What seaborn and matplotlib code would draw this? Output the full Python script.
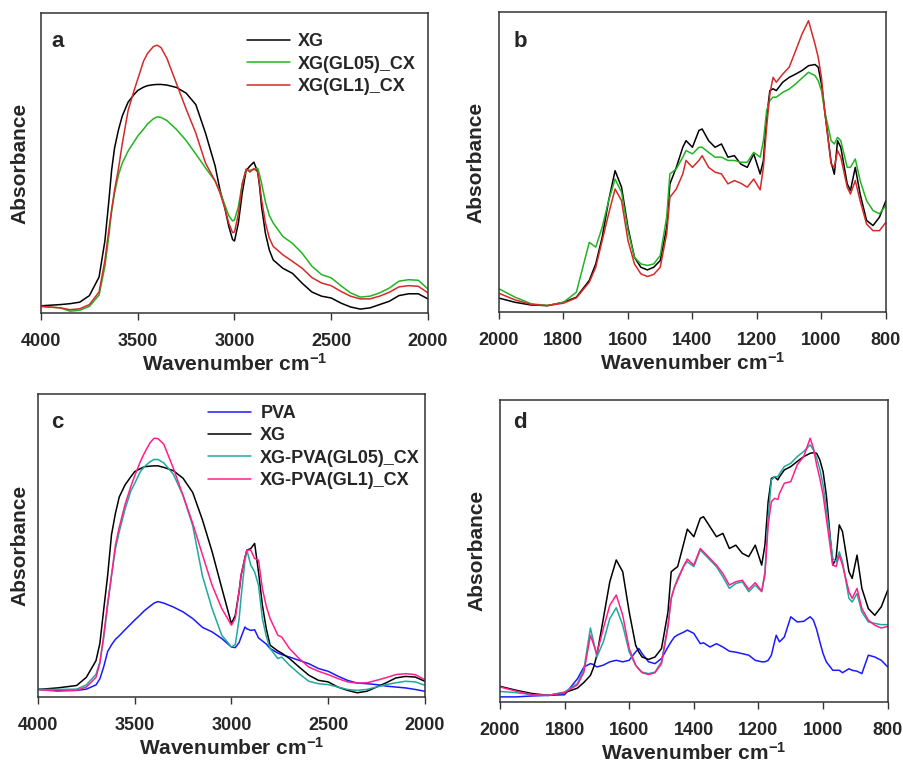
import numpy as np
import pandas as pd
import matplotlib
matplotlib.use("Agg")
import matplotlib.pyplot as plt
import seaborn as sns

# ---------------- data (arbitrary absorbance units) ----------------
xa = [4000, 3900, 3850, 3800, 3750, 3700, 3670, 3650, 3635, 3620, 3600, 3580, 3550, 3520, 3500,
      3470, 3450, 3420, 3400, 3380, 3350, 3300, 3250, 3200, 3150, 3100, 3075, 3050, 3030, 3010,
      3000, 2980, 2960, 2940, 2920, 2900, 2880, 2870, 2860, 2840, 2820, 2800, 2750, 2700, 2650,
      2600, 2550, 2500, 2450, 2400, 2350, 2300, 2250, 2200, 2150, 2100, 2050, 2000]
a_xg = [.024, .028, .031, .036, .058, .12, .24, .37, .477, .55, .61, .657, .703, .728, .742,
        .753, .758, .761, .762, .762, .76, .752, .733, .695, .60, .49, .41, .35, .29, .245,
        .24, .30, .40, .475, .49, .503, .47, .42, .354, .265, .21, .177, .149, .132, .099,
        .07, .056, .05, .033, .02, .013, .017, .028, .039, .058, .064, .064, .047]
a_gl05 = [.022, .017, .006, .009, .022, .06, .155, .255, .34, .40, .46, .50, .54, .57, .59,
          .613, .63, .647, .654, .652, .642, .612, .575, .53, .484, .44, .405, .36, .325, .307,
          .31, .354, .43, .478, .476, .478, .482, .46, .432, .37, .325, .30, .255, .232, .199,
          .156, .128, .117, .091, .067, .053, .056, .067, .083, .106, .111, .109, .080]
a_gl1 = [.022, .017, .011, .014, .028, .07, .175, .275, .345, .41, .48, .565, .675, .74, .78,
         .84, .865, .888, .893, .885, .85, .765, .68, .60, .50, .44, .40, .35, .30, .268,
         .27, .33, .43, .48, .47, .482, .47, .43, .378, .30, .25, .222, .194, .172, .149,
         .118, .1, .091, .072, .056, .047, .047, .056, .069, .087, .091, .089, .067]

xb = [2000, 1950, 1900, 1850, 1800, 1760, 1720, 1700, 1680, 1660, 1640, 1620, 1600, 1580, 1560,
      1540, 1520, 1500, 1480, 1470, 1450, 1430, 1420, 1400, 1380, 1370, 1350, 1330, 1310, 1290,
      1270, 1250, 1230, 1210, 1190, 1180, 1170, 1160, 1150, 1140, 1120, 1100, 1080, 1060, 1040,
      1020, 1010, 1000, 990, 970, 960, 950, 940, 920, 910, 895, 880, 860, 840, 820, 800]
b_xg = [.047, .033, .024, .022, .033, .05, .106, .161, .25, .372, .472, .417, .283, .183, .15,
        .141, .15, .172, .283, .428, .483, .55, .572, .55, .606, .611, .572, .55, .561, .517,
        .522, .494, .483, .528, .461, .506, .65, .739, .745, .739, .767, .783, .794, .806, .822,
        .826, .817, .761, .672, .50, .46, .572, .55, .428, .406, .483, .394, .306, .289, .317, .372]
b_gl05 = [.078, .05, .028, .022, .033, .067, .233, .217, .283, .372, .444, .4, .272, .183, .161,
          .156, .161, .189, .317, .461, .478, .517, .539, .528, .55, .55, .533, .517, .517, .506,
          .506, .5, .5, .533, .517, .572, .672, .706, .717, .717, .733, .744, .761, .781, .8,
          .789, .772, .739, .672, .572, .561, .583, .572, .483, .483, .511, .439, .372, .339, .328, .356]
b_gl1 = [.063, .041, .026, .022, .03, .048, .1, .15, .239, .328, .411, .372, .239, .161, .128,
         .119, .126, .15, .261, .383, .411, .461, .506, .483, .506, .522, .483, .467, .461, .428,
         .439, .43, .417, .444, .408, .483, .617, .728, .783, .767, .794, .817, .872, .928, .972,
         .894, .85, .783, .672, .494, .483, .539, .517, .417, .394, .439, .372, .294, .272, .272, .3]

xc = [4000, 3900, 3800, 3750, 3700, 3680, 3660, 3640, 3620, 3600, 3580, 3550, 3520, 3500, 3470,
      3450, 3420, 3400, 3380, 3350, 3300, 3250, 3200, 3150, 3100, 3050, 3000, 2980, 2960, 2950,
      2930, 2920, 2900, 2880, 2860, 2840, 2820, 2800, 2760, 2740, 2700, 2650, 2600, 2550, 2500,
      2450, 2400, 2350, 2300, 2250, 2200, 2150, 2100, 2050, 2000]
c_pva = [.025, .022, .022, .026, .04, .06, .10, .15, .172, .19, .202, .222, .241, .254, .272,
         .285, .30, .31, .315, .31, .297, .281, .259, .23, .215, .193, .165, .163, .18, .198,
         .231, .225, .22, .222, .195, .185, .175, .16, .145, .14, .132, .121, .11, .094, .085,
         .069, .055, .046, .044, .041, .036, .033, .03, .025, .019]
c_xg = [.025, .03, .038, .065, .12, .177, .29, .40, .535, .605, .66, .70, .727, .744, .754,
        .76, .762, .763, .763, .758, .747, .722, .675, .585, .48, .36, .242, .27, .35, .402,
        .46, .485, .49, .507, .413, .303, .226, .171, .152, .145, .127, .099, .072, .055, .05,
        .033, .022, .014, .019, .033, .047, .063, .068, .066, .052]
c_gl05 = [.025, .025, .026, .04, .075, .116, .195, .30, .40, .488, .545, .62, .68, .705, .745,
          .76, .777, .784, .784, .773, .735, .665, .565, .40, .292, .204, .165, .173, .259, .33,
          .45, .485, .435, .413, .369, .259, .2, .16, .127, .132, .105, .077, .052, .044, .041,
          .033, .025, .022, .025, .033, .041, .047, .052, .05, .039]
c_gl1 = [.025, .019, .022, .033, .065, .111, .205, .31, .40, .50, .56, .635, .695, .73, .778,
         .805, .84, .854, .853, .835, .755, .665, .573, .47, .369, .292, .237, .26, .35, .402,
         .46, .485, .485, .457, .452, .358, .3, .259, .204, .198, .16, .127, .099, .085, .074,
         .061, .05, .046, .047, .055, .064, .074, .077, .074, .057]

xd = [2000, 1950, 1900, 1850, 1800, 1760, 1740, 1720, 1710, 1700, 1680, 1660, 1640, 1620, 1600,
      1580, 1570, 1560, 1540, 1520, 1500, 1480, 1470, 1460, 1450, 1430, 1420, 1400, 1380, 1370,
      1350, 1330, 1310, 1290, 1270, 1250, 1230, 1210, 1190, 1180, 1170, 1160, 1150, 1145, 1140,
      1135, 1120, 1100, 1080, 1060, 1040, 1030, 1020, 1010, 1000, 990, 970, 960, 950, 940,
      920, 910, 895, 880, 860, 840, 820, 800]
d_pva = [.017, .017, .02, .022, .024, .077, .116, .127, .124, .116, .122, .133, .138, .133, .138,
         .166, .177, .16, .133, .127, .144, .182, .2, .215, .222, .232, .238, .227, .193, .196,
         .182, .193, .182, .168, .165, .16, .155, .138, .133, .133, .138, .155, .2, .221, .21,
         .199, .215, .282, .265, .267, .282, .271, .24, .199, .16, .133, .105, .105, .105, .097,
         .11, .105, .102, .094, .155, .149, .138, .116]
d_xg = [.052, .039, .028, .022, .031, .046, .065, .088, .115, .155, .276, .398, .47, .431, .298,
        .188, .165, .149, .141, .149, .177, .298, .431, .44, .448, .53, .572, .547, .608, .613,
        .58, .547, .558, .508, .519, .492, .481, .519, .453, .519, .663, .74, .745, .74, .735,
        .745, .768, .779, .796, .812, .823, .825, .823, .801, .762, .685, .453, .475, .586, .564,
        .431, .409, .486, .376, .309, .287, .315, .37]
d_gl05 = [.035, .031, .024, .022, .033, .061, .11, .245, .199, .149, .199, .276, .312, .254, .166,
          .122, .11, .099, .094, .099, .133, .254, .343, .38, .409, .453, .464, .448, .503, .492,
          .47, .448, .414, .376, .392, .398, .365, .387, .365, .431, .608, .735, .746, .745, .746,
          .755, .779, .79, .812, .829, .851, .834, .807, .77, .718, .641, .475, .464, .497, .464,
          .343, .331, .359, .298, .265, .26, .256, .256]
d_gl1 = [.05, .036, .024, .022, .031, .057, .099, .221, .19, .16, .243, .32, .354, .287, .177,
         .122, .108, .097, .091, .097, .127, .249, .343, .38, .403, .453, .473, .453, .508, .497,
         .475, .453, .425, .387, .398, .403, .373, .395, .367, .42, .586, .663, .674, .672, .67,
         .69, .724, .729, .785, .812, .873, .84, .785, .74, .685, .608, .453, .448, .486, .453,
         .365, .343, .376, .309, .271, .254, .245, .25]

labels_ab = ["XG", "XG(GL05)_CX", "XG(GL1)_CX"]
labels_cd = ["PVA", "XG", "XG-PVA(GL05)_CX", "XG-PVA(GL1)_CX"]
colors_ab = {"XG": "#000000", "XG(GL05)_CX": "#22b422", "XG(GL1)_CX": "#d42a2a"}
colors_cd = {"PVA": "#1a1aff", "XG": "#000000", "XG-PVA(GL05)_CX": "#1fa8a0",
             "XG-PVA(GL1)_CX": "#ff1f8c"}


def long_frame(x, series, labels):
    frames = []
    for lab, ys in zip(labels, series):
        if len(ys) != len(x):
            raise ValueError(f"length mismatch for {lab}: {len(ys)} vs {len(x)}")
        frames.append(pd.DataFrame({"wn": x, "abs": ys, "sample": lab}))
    return pd.concat(frames, ignore_index=True)


dfa = long_frame(xa, [a_xg, a_gl05, a_gl1], labels_ab)
dfb = long_frame(xb, [b_xg, b_gl05, b_gl1], labels_ab)
dfc = long_frame(xc, [c_pva, c_xg, c_gl05, c_gl1], labels_cd)
dfd = long_frame(xd, [d_pva, d_xg, d_gl05, d_gl1], labels_cd)

# ---------------- style ----------------
sns.set_style("ticks")
plt.rcParams["font.family"] = ["Liberation Sans", "DejaVu Sans"]
plt.rcParams["font.weight"] = "bold"
plt.rcParams["mathtext.fontset"] = "custom"
plt.rcParams["mathtext.rm"] = "Liberation Sans:bold"
plt.rcParams["mathtext.bf"] = "Liberation Sans:bold"
plt.rcParams["mathtext.it"] = "Liberation Sans:bold"

fig = plt.figure(figsize=(9.04, 7.69), dpi=100)
axa = fig.add_axes([0.0454, 0.593, 0.428, 0.390])
axb = fig.add_axes([0.552, 0.594, 0.428, 0.390])
axc = fig.add_axes([0.042, 0.0936, 0.428, 0.394])
axd = fig.add_axes([0.553, 0.0871, 0.429, 0.393])

spec = [
    (axa, dfa, labels_ab, colors_ab, (4000, 2000), [4000, 3500, 3000, 2500, 2000], "a", (0.026, 0.887), 8),
    (axb, dfb, labels_ab, colors_ab, (2000, 800), [2000, 1800, 1600, 1400, 1200, 1000, 800], "b", (0.037, 0.883), 10),
    (axc, dfc, labels_cd, colors_cd, (4000, 2000), [4000, 3500, 3000, 2500, 2000], "c", (0.034, 0.887), 6),
    (axd, dfd, labels_cd, colors_cd, (2000, 800), [2000, 1800, 1600, 1400, 1200, 1000, 800], "d", (0.034, 0.906), 10),
]

for ax, df, labs, cols, xlim, xticks, letter, lpos, ypad in spec:
    sns.lineplot(data=df, x="wn", y="abs", hue="sample", hue_order=labs, palette=cols,
                 estimator=None, sort=False, linewidth=1.1, legend=False, ax=ax)
    for ln in ax.get_lines():
        ln.set_solid_joinstyle("round")
    ax.set_xlim(*xlim)
    ax.set_ylim(0, 1)
    ax.set_xticks(xticks)
    ax.set_xticklabels([str(t) for t in xticks], fontsize=13, fontweight="bold")
    ax.set_yticks([])
    ax.set_xlabel("Wavenumber cm$^{-1}$", fontsize=15, fontweight="bold", labelpad=2)
    ax.set_ylabel("Absorbance", fontsize=15, fontweight="bold", labelpad=ypad)
    ax.tick_params(axis="x", direction="out", length=5, width=1.0, color="#333333", pad=9.5)
    for s in ax.spines.values():
        s.set_visible(True)
        s.set_color("#333333")
        s.set_linewidth(1.1)
    ax.text(lpos[0], lpos[1], letter, transform=ax.transAxes, fontsize=16,
            fontweight="bold", va="baseline", ha="left")

hand_a = axa.get_lines()[:3]
axa.legend(hand_a, labels_ab, loc="upper left", bbox_to_anchor=(0.523, 0.945), frameon=False,
           prop={"weight": "bold", "size": 13}, handlelength=2.4,
           handletextpad=0.4, labelspacing=0.3, borderaxespad=0, borderpad=0.2)
hand_c = axc.get_lines()[:4]
axc.legend(hand_c, labels_cd, loc="upper left", bbox_to_anchor=(0.43, 0.976), frameon=False,
           prop={"weight": "bold", "size": 13}, handlelength=2.4,
           handletextpad=0.5, labelspacing=0.3, borderaxespad=0, borderpad=0.2)

fig.savefig("out.png", dpi=100)
